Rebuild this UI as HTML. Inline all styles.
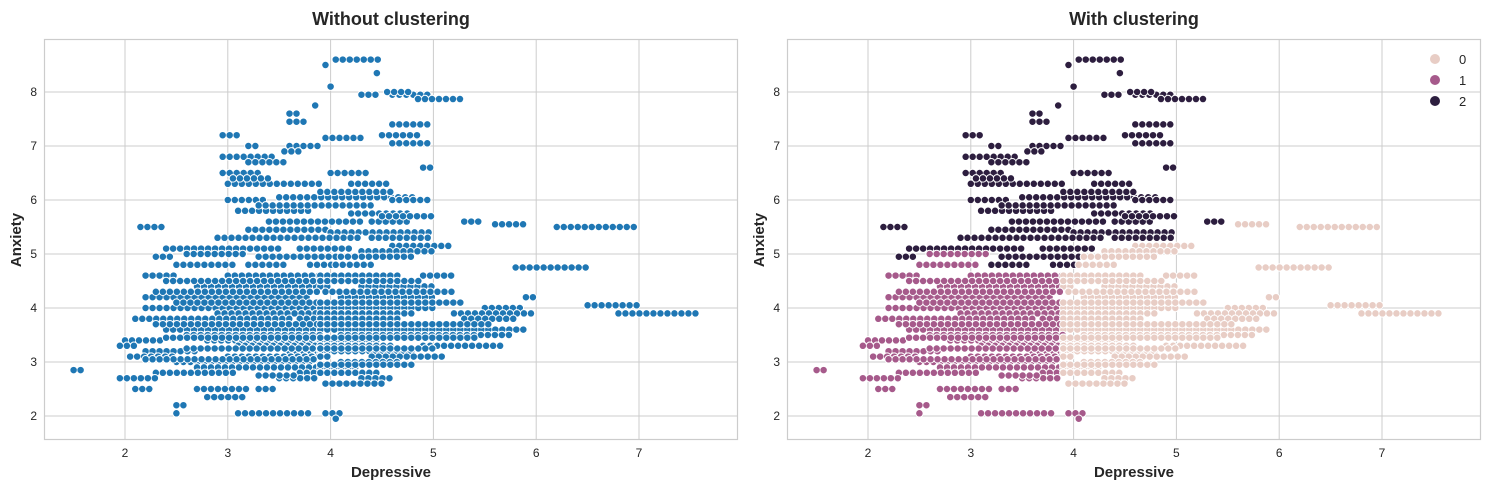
<!DOCTYPE html>
<html><head><meta charset="utf-8"><style>
body{margin:0;background:#fff;}
svg{display:block;font-family:"Liberation Sans","DejaVu Sans",sans-serif;}
</style></head><body>
<svg id="c" width="1489" height="490" viewBox="0 0 1489 490"></svg>
<script>
// Runs of observations: [anxiety y, depressive x start, depressive x end]
const runY = [8.6,8.5,8.35,8.1,7.95,7.95,7.87,7.75,7.45,7.4,7.2,7.15,7.2,7.0,7.0,7.05,6.8,6.9,6.5,6.5,6.6,6.3,6.3,6.0,6.05,6.0,5.8,5.75,5.6,5.6,5.6,5.55,5.5,5.45,5.4,5.5,5.3,5.3,5.15,5.1,5.1,5.05,4.95,4.95,4.95,4.8,4.8,4.8,4.8,4.75,4.6,4.6,4.6,4.6,4.4,4.4,4.4,4.2,4.2,4.2,4.0,4.0,4.0,4.05,3.9,3.9,3.9,3.9,3.8,3.8,3.8,3.8,3.6,3.6,3.5,3.5,3.4,3.4,3.4,3.3,3.3,3.3,3.3,3.2,3.2,3.2,3.1,3.1,3.1,3.1,3.0,3.0,2.9,2.9,2.85,2.8,2.8,2.8,2.7,2.7,2.7,2.5,2.5,2.5,2.35,2.2,2.05,2.05,2.05,1.95,
  6.7,6.15,5.9,5.7,5.0,4.5,4.3,4.1,3.7,3.45,3.25,3.05,4.5,4.3,4.1,3.7,3.45,3.25,2.95,2.6,2.75,7.6,8.0,6.4];
const runX0 = [4.05,3.95,4.45,4.0,4.3,4.6,4.85,3.85,3.6,4.6,2.95,3.95,4.5,3.2,3.6,4.6,2.95,3.55,4.0,2.95,4.9,3.0,4.2,3.0,3.5,4.6,3.1,4.2,3.4,4.4,5.3,5.6,6.2,3.2,4.0,2.15,2.9,4.4,4.6,2.4,3.7,4.3,2.3,3.3,4.1,2.5,3.2,3.8,4.05,5.8,2.2,3.0,3.9,4.9,2.7,3.9,4.3,2.2,4.1,5.9,2.2,3.9,5.5,6.5,2.9,3.9,5.2,6.8,2.1,3.7,3.9,5.3,2.4,3.9,2.6,4.1,2.0,2.8,3.9,1.95,3.1,3.9,4.9,2.2,3.6,3.9,2.05,3.0,3.9,4.4,2.5,4.1,2.7,3.9,1.5,2.3,3.7,3.9,1.95,3.5,4.3,2.1,2.7,3.3,2.8,2.5,2.5,3.1,3.95,4.05,
  3.2,3.9,3.3,4.5,2.6,2.4,2.3,2.5,2.3,2.4,2.6,2.2,3.9,3.95,3.9,3.9,3.9,3.9,3.9,3.95,3.3,3.6,4.55,3.05];
const runX1 = [4.5,4.0,4.45,4.0,4.45,5.0,5.3,3.85,3.75,5.0,3.1,4.3,4.9,3.3,3.9,5.0,3.45,3.75,4.4,3.3,5.0,3.9,4.55,3.4,4.8,5.0,3.8,4.8,4.3,4.8,5.5,5.9,7.0,4.0,5.0,2.4,4.3,5.0,5.2,3.5,4.2,5.0,2.5,4.1,4.8,3.1,3.6,4.05,4.4,6.5,2.5,3.9,4.7,5.2,3.9,4.0,5.0,3.8,5.0,6.0,3.9,5.0,5.9,7.0,3.9,4.8,6.0,7.6,3.6,3.9,4.7,5.8,3.9,5.9,3.9,5.8,2.4,3.9,4.5,2.1,3.9,4.6,5.7,2.7,3.9,4.8,2.5,3.9,4.0,5.1,3.8,4.7,3.9,4.3,1.6,3.1,3.9,4.5,2.3,3.9,4.6,2.3,3.2,3.5,3.2,2.6,2.55,3.8,4.1,4.1,
  3.6,4.6,4.4,5.0,3.2,3.9,3.9,3.9,3.9,3.9,3.9,3.9,4.9,5.2,5.3,5.6,5.4,5.0,4.8,4.5,3.7,3.7,4.8,3.4];
const runCluster = [2,2,2,2,2,2,2,2,2,2,2,2,2,2,2,2,2,2,2,2,2,2,2,2,2,2,2,2,2,2,2,0,0,2,2,2,2,2,0,2,2,0,2,2,0,1,2,2,0,0,1,1,0,0,1,0,0,1,0,0,1,0,0,0,1,0,0,0,1,1,0,0,1,0,1,0,1,1,0,1,1,0,0,1,1,0,1,1,0,0,1,0,1,0,1,1,1,0,1,1,0,1,1,1,1,1,1,1,1,1,
  2,2,2,2,1,1,1,1,1,1,1,1,0,0,0,0,0,0,0,0,1,2,2,2];
const xTicks = [2,3,4,5,6,7];
const yTicks = [2,3,4,5,6,7,8];
const legendLabels = ["0","1","2"];
const clusterColors = ["#e8cdc5","#a65a8b","#2d1e3f"];

const NS="http://www.w3.org/2000/svg";
const svg=document.getElementById('c');
function mk(tag,attrs,parent){const e=document.createElementNS(NS,tag);for(const k in attrs)e.setAttribute(k,attrs[k]);(parent||svg).appendChild(e);return e;}

function panel(left,title,clustered,name){
  const x0=left, x1=left+694, yT=39, yB=440;
  const sx=v=>left+81+(v-2)*102.8;
  const sy=v=>416-(v-2)*54;
  const g=mk('g',{});
  
  
  xTicks.forEach(t=>{
    const l=mk('line',{x1:sx(t),x2:sx(t),y1:yT,y2:yB,stroke:'#cccccc','stroke-width':1},g);
    
    
    const tx=mk('text',{x:sx(t),y:457,'text-anchor':'middle','font-size':12,fill:'#262626'},g);
    tx.textContent=t;
    
    
  });
  yTicks.forEach(t=>{
    const l=mk('line',{x1:x0,x2:x1,y1:sy(t),y2:sy(t),stroke:'#cccccc','stroke-width':1},g);
    
    
    const tx=mk('text',{x:x0-7,y:sy(t)+4,'text-anchor':'end','font-size':12,fill:'#262626'},g);
    tx.textContent=t;
    
    
  });
  const pts=mk('g',{},g);
  
  
  for(let i=0;i<runY.length;i++){
    const col=clustered?clusterColors[runCluster[i]]:'#1f77b4';
    const a={x1:sx(runX0[i]),x2:sx(runX1[i])+0.01,y1:sy(runY[i]),y2:sy(runY[i]),'stroke-linecap':'round','stroke-dasharray':'0 7'};
    const w=mk('line',Object.assign({},a,{stroke:'#ffffff','stroke-width':8.5}),pts);
    
    
    const p=mk('line',Object.assign({},a,{stroke:col,'stroke-width':6.5}),pts);
    
    
  }
  const fr=mk('rect',{x:x0+0.5,y:yT+0.5,width:x1-x0-1,height:yB-yT-1,fill:'none',stroke:'#cccccc','stroke-width':1.2},g);
  
  
  const ti=mk('text',{x:(x0+x1)/2,y:25,'text-anchor':'middle','font-size':18,'font-weight':'bold',fill:'#262626'},g);
  ti.textContent=title;
  
  
  const xl=mk('text',{x:(x0+x1)/2,y:477,'text-anchor':'middle','font-size':15,'font-weight':'bold',fill:'#262626'},g);
  xl.textContent='Depressive';
  
  
  const yl=mk('text',{x:0,y:0,'text-anchor':'middle','font-size':15,'font-weight':'bold',fill:'#262626',transform:`translate(${x0-23},240) rotate(-90)`},g);
  yl.textContent='Anxiety';
  
  
  if(clustered){
    legendLabels.forEach((lab,i)=>{
      const c=mk('circle',{cx:1435,cy:59+i*21,r:5,fill:clusterColors[i]},g);
      
      
      const t=mk('text',{x:1459,y:64+i*21,'font-size':13,fill:'#262626'},g);
      t.textContent=lab;
      
      
    });
  }
}
panel(44,'Without clustering',false,'left-scatter-panel');
panel(787,'With clustering',true,'right-scatter-panel');
</script>
</body></html>
